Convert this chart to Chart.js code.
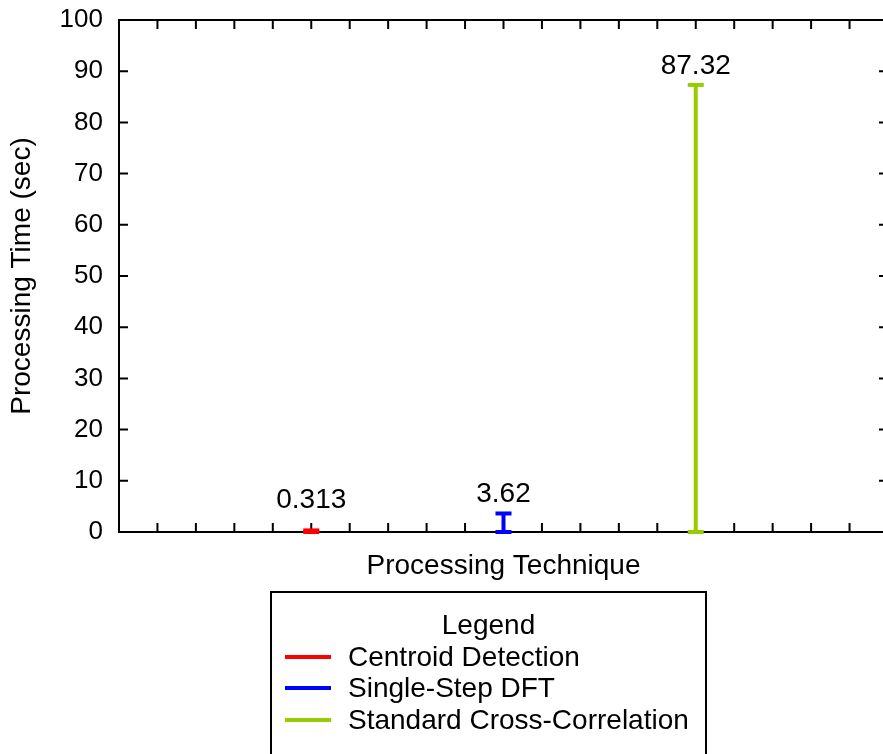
<!DOCTYPE html>
<html>
<head>
<meta charset="utf-8">
<script src="https://cdn.jsdelivr.net/npm/chart.js@4/dist/chart.umd.min.js"></script>
<style>
html, body { margin: 0; padding: 0; background: #fff; overflow: hidden; }
#wrap { position: relative; width: 900px; height: 754px; }
#legend {
    position: absolute; left: 270px; top: 591px; width: 433px; height: 200px;
    border: 2px solid #000; padding-top: 16px; box-sizing: content-box;
    font-family: "Liberation Sans", Arial, sans-serif; font-size: 28px; color: #000;
}
#legend .row { position: relative; height: 31.5px; line-height: 31.5px; white-space: nowrap; }
#legend .title { text-align: center; }
#legend .sw { position: absolute; left: 13px; top: 14px; width: 46px; height: 4px; }
#legend .txt { position: absolute; left: 76px; top: 0; }
</style>
</head>
<body>
<div id="wrap">
    <canvas id="chart" width="900" height="754"></canvas>
    <div id="legend"></div>
</div>
<script>
/* data */
var categories = ['Centroid Detection', 'Single-Step DFT', 'Standard Cross-Correlation'];
var xSlots = [1, 2, 3];
var times = [0.313, 3.62, 87.32];
var valueLabels = ['0.313', '3.62', '87.32'];
var colors = ['#ff0000', '#0000ff', '#99cc00'];
var yTicks = [0, 10, 20, 30, 40, 50, 60, 70, 80, 90, 100];

Chart.defaults.font.family = '"Liberation Sans", Arial, sans-serif';
Chart.defaults.color = '#000';

var datasets = categories.map(function (name, i) {
    return {
        label: name,
        data: [{x: xSlots[i], y: 0}, {x: xSlots[i], y: times[i]}],
        showLine: true,
        borderColor: colors[i],
        backgroundColor: colors[i],
        borderWidth: 4,
        pointStyle: 'line',
        pointRadius: 8,
        pointBorderWidth: 4,
        pointBorderColor: colors[i],
        clip: false
    };
});

// gnuplot-like frame with inward ticks on all four sides
var framePlugin = {
    id: 'frame',
    beforeDatasetsDraw: function (chart) {
        var ctx = chart.ctx, a = chart.chartArea;
        var x = chart.scales.x, y = chart.scales.y;
        ctx.save();
        ctx.strokeStyle = '#000';
        ctx.lineWidth = 2;
        ctx.strokeRect(a.left, a.top, a.right - a.left, a.bottom - a.top);
        ctx.beginPath();
        y.ticks.forEach(function (t) {
            var py = y.getPixelForValue(t.value);
            ctx.moveTo(a.left, py); ctx.lineTo(a.left + 9, py);
            ctx.moveTo(a.right, py); ctx.lineTo(a.right - 9, py);
        });
        x.ticks.forEach(function (t) {
            var px = x.getPixelForValue(t.value);
            ctx.moveTo(px, a.bottom); ctx.lineTo(px, a.bottom - 9);
            ctx.moveTo(px, a.top); ctx.lineTo(px, a.top + 9);
        });
        ctx.stroke();
        ctx.restore();
    }
};

// value printed over each mark
var valuePlugin = {
    id: 'values',
    afterDatasetsDraw: function (chart) {
        var ctx = chart.ctx;
        var zero = chart.scales.y.getPixelForValue(0);
        ctx.save();
        ctx.font = '28px "Liberation Sans", Arial, sans-serif';
        ctx.fillStyle = '#000';
        ctx.textAlign = 'center';
        ctx.textBaseline = 'middle';
        chart.data.datasets.forEach(function (ds, i) {
            var pt = chart.getDatasetMeta(i).data[1];
            ctx.fillText(valueLabels[i], pt.x, Math.min(pt.y - 19, zero - 32));
        });
        ctx.restore();
    }
};

var config = {
    type: 'scatter',
    data: {datasets: datasets},
    options: {
        responsive: false,
        devicePixelRatio: 1,
        animation: false,
        events: [],
        layout: {padding: {top: 20, right: 9, left: 0, bottom: 0}},
        plugins: {
            legend: {display: false},
            tooltip: {enabled: false}
        },
        scales: {
            x: {
                type: 'linear',
                min: 0,
                max: 4,
                ticks: {display: false, stepSize: 0.2},
                grid: {display: false},
                border: {display: false},
                title: {
                    display: true,
                    text: 'Processing Technique',
                    font: {size: 28},
                    padding: {top: 0, bottom: 171}
                },
                afterFit: function (s) { s.height = 222; }
            },
            y: {
                type: 'linear',
                min: 0,
                max: 100,
                ticks: {padding: 8, font: {size: 26}},
                afterBuildTicks: function (s) {
                    s.ticks = yTicks.map(function (v) { return {value: v}; });
                },
                grid: {display: false},
                border: {display: false},
                title: {
                    display: true,
                    text: 'Processing Time (sec)',
                    font: {size: 28},
                    padding: {top: 5, bottom: 0}
                },
                afterFit: function (s) {
                    s.width = 119;
                    s.paddingTop = 0;
                    s.paddingBottom = 0;
                }
            }
        }
    },
    plugins: [framePlugin, valuePlugin]
};

var ctx = document.getElementById('chart').getContext('2d');
var myChart = new Chart(ctx, config);

// boxed legend under the axis title
var legendEl = document.getElementById('legend');
var head = document.createElement('div');
head.className = 'row title';
head.textContent = 'Legend';
legendEl.appendChild(head);
categories.forEach(function (name, i) {
    var row = document.createElement('div');
    row.className = 'row';
    var sw = document.createElement('span');
    sw.className = 'sw';
    sw.style.background = colors[i];
    var txt = document.createElement('span');
    txt.className = 'txt';
    txt.textContent = name;
    row.appendChild(sw);
    row.appendChild(txt);
    legendEl.appendChild(row);
});
</script>
</body>
</html>
